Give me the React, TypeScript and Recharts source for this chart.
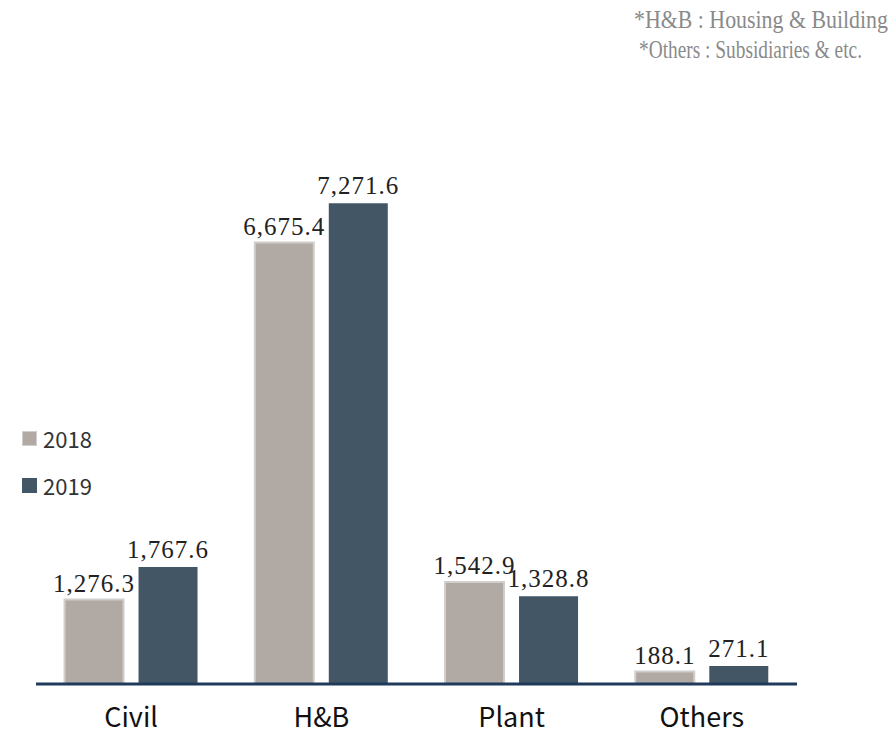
import React from "react";
import { BarChart, Bar, XAxis, YAxis, LabelList } from "recharts";

const categories = ["Civil", "H&B", "Plant", "Others"];
const values2018 = [1276.3, 6675.4, 1542.9, 188.1];
const values2019 = [1767.6, 7271.6, 1328.8, 271.1];
const seriesNames = ["2018", "2019"];
const notes = ["*H&B : Housing & Building", "*Others : Subsidiaries & etc."];

const data = categories.map((c, i) => ({
  name: c,
  y2018: values2018[i],
  y2019: values2019[i],
}));

const fmt = (v: number) =>
  v.toLocaleString("en-US", { minimumFractionDigits: 1, maximumFractionDigits: 1 });

const C2018 = "#b1a9a4";
const C2019 = "#435666";

const CatTick = (props: any) => {
  const { x, y, payload } = props;
  return (
    <text
      x={x}
      y={y}
      dy={35}
      textAnchor="middle"
      fontFamily="'Noto Sans CJK KR', 'Noto Sans', sans-serif"
      fontSize={27}
      fill="#111"
    >
      {payload.value}
    </text>
  );
};

const LegendBox = () => (
  <div style={{ position: "absolute", left: 22, top: 424, fontFamily: "'Noto Sans CJK KR', 'Noto Sans', sans-serif", fontSize: 22, color: "#333" }}>
    {seriesNames.map((n, i) => (
      <div key={n} style={{ display: "flex", alignItems: "center", height: 28, marginBottom: 19 }}>
        <span
          style={{
            display: "inline-block",
            width: 15,
            height: 15,
            background: i === 0 ? C2018 : C2019,
            border: i === 0 ? "1px solid #d2cecb" : "none",
            boxSizing: "border-box",
            marginRight: 6,
          }}
        />
        <span>{n}</span>
      </div>
    ))}
  </div>
);

const labelStyle = { fontFamily: "'Liberation Serif', serif", fontSize: 25, fill: "#222", letterSpacing: 1 };

export default function App() {
  return (
    <div style={{ position: "absolute", left: 0, top: 0, width: 896, height: 734, background: "#fff" }}>
      <BarChart
        width={896}
        height={734}
        data={data}
        margin={{ top: 155, right: 99, bottom: 0, left: 36 }}
        barGap={15}
        barCategoryGap="15%"
      >
        <XAxis
          dataKey="name"
          height={50}
          axisLine={{ stroke: "#203a5c", strokeWidth: 3 }}
          tickLine={false}
          tick={<CatTick />}
          interval={0}
        />
        <YAxis hide domain={[0, 8000]} />
        <Bar dataKey="y2018" fill={C2018} stroke="#d2cecb" strokeWidth={2} isAnimationActive={false}>
          <LabelList
            dataKey="y2018"
            position="top"
            offset={8}
            formatter={(v: any) => fmt(Number(v))}
            style={labelStyle}
          />
        </Bar>
        <Bar dataKey="y2019" fill={C2019} isAnimationActive={false}>
          <LabelList
            dataKey="y2019"
            position="top"
            offset={9}
            formatter={(v: any) => fmt(Number(v))}
            style={labelStyle}
          />
        </Bar>
      </BarChart>
      <LegendBox />
      <svg style={{ position: "absolute", left: 0, top: 0 }} width={896} height={80}>
        <text x={888} y={28} textAnchor="end" fontFamily="'Liberation Serif', serif" fontSize={25} fill="#8a8a8a" textLength={254} lengthAdjust="spacingAndGlyphs">
          {notes[0]}
        </text>
        <text x={862} y={58} textAnchor="end" fontFamily="'Liberation Serif', serif" fontSize={25} fill="#8a8a8a" textLength={223} lengthAdjust="spacingAndGlyphs">
          {notes[1]}
        </text>
      </svg>
    </div>
  );
}
